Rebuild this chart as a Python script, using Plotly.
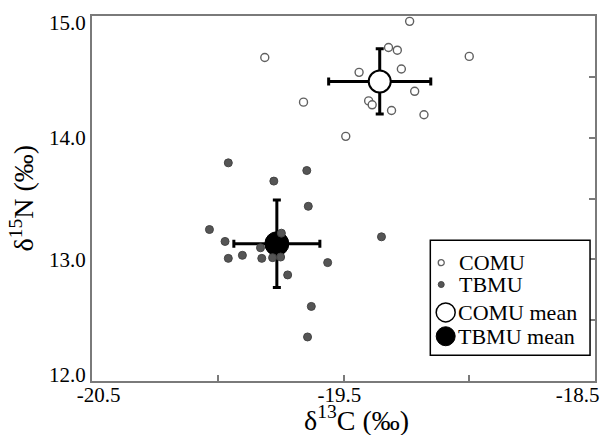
import plotly.graph_objects as go

# ---- data ----
comu_d13c = [-19.237, -19.813, -19.321, -19.286, -19.000, -19.438, -19.270,
             -19.217, -19.659, -19.400, -19.386, -19.309, -19.180, -19.491]
comu_d15n = [14.956, 14.659, 14.741, 14.719, 14.668, 14.537, 14.564,
             14.381, 14.292, 14.302, 14.270, 14.223, 14.188, 14.011]

tbmu_d13c = [-19.958, -19.646, -19.777, -19.640, -20.033, -19.747, -19.349,
             -19.971, -19.830, -19.958, -19.902, -19.825, -19.782, -19.750,
             -19.563, -19.722, -19.628, -19.643]
tbmu_d15n = [13.793, 13.730, 13.643, 13.436, 13.245, 13.215, 13.185,
             13.147, 13.095, 13.008, 13.033, 13.008, 13.014, 13.019,
             12.973, 12.872, 12.613, 12.362]

mean_labels = ["COMU mean", "TBMU mean"]
mean_d13c = [-19.356, -19.765]
mean_d13c_sd = [0.203, 0.171]
mean_d15n = [14.462, 13.128]
mean_d15n_sd = [0.268, 0.360]

x_tick_labels = ["-20.5", "-19.5", "-18.5"]
x_tick_label_pos = [-20.474, -19.516, -18.569]
x_minor_ticks = [-20.0, -19.5, -19.0]
y_tick_labels = ["12.0", "13.0", "14.0", "15.0"]
y_tick_label_pos = [12.05, 13.0, 14.0, 14.943]
y_right_ticks = [12.5, 13.0, 13.5, 14.0, 14.5]

legend_labels = ["COMU", "TBMU", "COMU mean", "TBMU mean"]

FONT = "Times New Roman, Liberation Serif, Tinos, serif"
W, H = 610, 435
ML, MR, MT, MB = 92, 11, 14, 54
AXC = "#7a7a7a"

fig = go.Figure()

# means with SD bars (drawn first so points sit on top)
fig.add_trace(go.Scatter(
    x=mean_d13c[:1], y=mean_d15n[:1], mode="markers", name=mean_labels[0],
    marker=dict(size=22, color="white", line=dict(color="black", width=2)),
    error_x=dict(type="data", array=mean_d13c_sd[:1], color="black", thickness=3, width=4),
    error_y=dict(type="data", array=mean_d15n_sd[:1], color="black", thickness=3, width=4),
    showlegend=False))
fig.add_trace(go.Scatter(
    x=mean_d13c[1:], y=mean_d15n[1:], mode="markers", name=mean_labels[1],
    marker=dict(size=24, color="black", line=dict(color="black", width=1)),
    error_x=dict(type="data", array=mean_d13c_sd[1:], color="black", thickness=3, width=4),
    error_y=dict(type="data", array=mean_d15n_sd[1:], color="black", thickness=3, width=4),
    showlegend=False))

fig.add_trace(go.Scatter(
    x=comu_d13c, y=comu_d15n, mode="markers", name="COMU",
    marker=dict(size=8, color="white", line=dict(color="#606060", width=1.4)),
    showlegend=False))
fig.add_trace(go.Scatter(
    x=tbmu_d13c, y=tbmu_d15n, mode="markers", name="TBMU",
    marker=dict(size=8, color="#555555", line=dict(color="#444444", width=1)),
    showlegend=False))

# invisible trace to carry the right-hand tick axis
fig.add_trace(go.Scatter(x=[None], y=[None], yaxis="y2", showlegend=False, hoverinfo="skip"))

pw = W - ML - MR
ph = H - MT - MB


def px_x(p):
    return (p - ML) / pw


def px_y(p):
    return (H - MB - p) / ph


shapes = []
annotations = []

# legend box
shapes.append(dict(type="rect", xref="paper", yref="paper",
                   x0=px_x(433), x1=px_x(594), y0=px_y(355), y1=px_y(239.5),
                   line=dict(color="black", width=1.5), fillcolor="white", layer="above"))

legend_rows = [262, 284, 312, 336]
legend_marker_x = [444, 444, 448.5, 448.5]
legend_marker_r = [3, 3, 9.5, 9.5]
legend_fill = ["white", "#555555", "white", "black"]
legend_line = ["#606060", "#444444", "black", "black"]
legend_lw = [1.3, 1, 1.5, 1]
legend_text_x = [460, 460, 459, 459]

for i, lab in enumerate(legend_labels):
    r = legend_marker_r[i]
    shapes.append(dict(type="circle", xref="paper", yref="paper",
                       xsizemode="pixel", ysizemode="pixel",
                       xanchor=px_x(legend_marker_x[i]), yanchor=px_y(legend_rows[i]),
                       x0=-r, x1=r, y0=-r, y1=r,
                       fillcolor=legend_fill[i],
                       line=dict(color=legend_line[i], width=legend_lw[i]), layer="above"))
    annotations.append(dict(text=lab, xref="paper", yref="paper",
                            x=px_x(legend_text_x[i]), y=px_y(legend_rows[i]),
                            xanchor="left", yanchor="middle", showarrow=False,
                            font=dict(family=FONT, size=22, color="black")))

# axis titles
annotations.append(dict(text="δ<sup>13</sup>C (‰)", xref="paper", yref="paper",
                        x=px_x(359), y=px_y(419), xanchor="center", yanchor="middle",
                        showarrow=False, font=dict(family=FONT, size=28, color="black")))
annotations.append(dict(text="δ<sup>15</sup>N (‰)", xref="paper", yref="paper",
                        x=px_x(21), y=px_y(197), xanchor="center", yanchor="middle",
                        textangle=-90, showarrow=False,
                        font=dict(family=FONT, size=28, color="black")))

fig.update_layout(
    width=W, height=H,
    margin=dict(l=ML, r=MR, t=MT, b=MB, pad=0),
    paper_bgcolor="white", plot_bgcolor="white",
    font=dict(family=FONT, size=21, color="black"),
    shapes=shapes, annotations=annotations,
    xaxis=dict(range=[-20.5, -18.5], showgrid=False, zeroline=False,
               showline=True, linecolor=AXC, linewidth=2, mirror=True,
               tickmode="array", tickvals=x_tick_label_pos, ticktext=x_tick_labels,
               ticks="", ticklabelstandoff=-6,
               tickfont=dict(family=FONT, size=21, color="black"),
               minor=dict(tickmode="array", tickvals=x_minor_ticks, ticks="inside",
                          ticklen=6, tickwidth=1.5, tickcolor=AXC, showgrid=False)),
    yaxis=dict(range=[12.0, 15.0], showgrid=False, zeroline=False,
               showline=True, linecolor=AXC, linewidth=2, mirror=True,
               tickmode="array", tickvals=y_tick_label_pos, ticktext=y_tick_labels,
               ticks="", tickfont=dict(family=FONT, size=21, color="black")),
    yaxis2=dict(range=[12.0, 15.0], overlaying="y", side="right", anchor="x",
                showgrid=False, zeroline=False, showline=False,
                tickmode="array", tickvals=y_right_ticks, ticks="inside",
                ticklen=6, tickwidth=1.5, tickcolor=AXC, showticklabels=False),
)

fig.write_html("out.html", config={"displayModeBar": False},
               post_script="document.body.style.margin='0';document.body.style.padding='0';")
